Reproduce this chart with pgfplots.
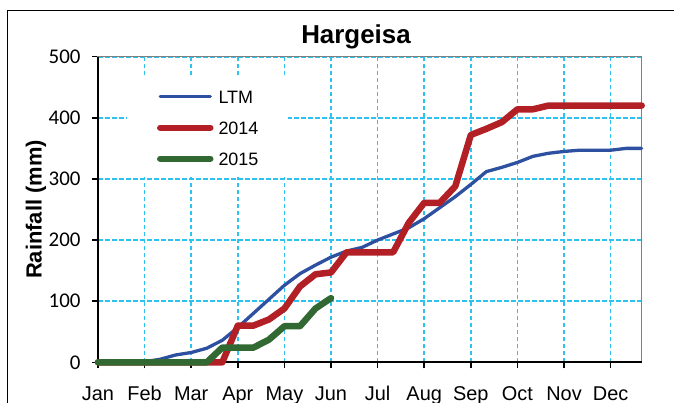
\documentclass[border=0pt]{standalone}
\usepackage{fontspec}
\setmainfont{Liberation Sans}
\newfontfamily\calibri{Carlito}
\usepackage{pgfplots}
\pgfplotsset{compat=1.18}
\definecolor{ltmblue}{RGB}{46,80,160}
\definecolor{red14}{RGB}{178,32,38}
\definecolor{green15}{RGB}{50,105,50}
\definecolor{gridcyan}{RGB}{45,195,240}
\begin{document}
\begin{tikzpicture}
\path[use as bounding box] (0bp,0bp) rectangle (674bp,403bp);
\clip (0bp,0bp) rectangle (674bp,403bp);
\draw[black, line width=1.2bp] (7.3bp,392.3bp) rectangle (720bp,-30bp);
\node[font=\bfseries\fontsize{26}{26}\selectfont, anchor=base] at (356bp,359.7bp) {Hargeisa};
\begin{axis}[
  at={(98bp,40.7bp)}, anchor=south west,
  scale only axis, width=543.7bp, height=305.6bp,
  xmin=0, xmax=35, ymin=0, ymax=500,
  xtick={0,3,...,33},
  xticklabels={Jan,Feb,Mar,Apr,May,Jun,Jul,Aug,Sep,Oct,Nov,Dec},
  ytick={0,100,...,500},
  xtick pos=left, ytick pos=left,
  tick align=outside,
  major tick length=6bp,
  every tick/.style={black, line width=1.5bp},
  grid=major,
  major grid style={gridcyan, line width=1.7bp, dash pattern=on 4.5bp off 2.5bp},
  axis line style={draw=gray, line width=1.5bp},
  /pgf/number format/assume math mode=true,
  xticklabel style={font=\fontsize{20}{20}\selectfont, anchor=base, inner sep=0pt, yshift=-32bp},
  yticklabel style={font=\calibri\fontsize{21}{21}\selectfont, anchor=east, inner sep=0pt, xshift=-11.3bp},
  ylabel={Rainfall (mm)},
  ylabel style={font=\bfseries\fontsize{22}{22}\selectfont, at={([xshift=-62bp]rel axis cs:0,0.5)}, anchor=center},
  clip=false,
  legend style={at={(rel axis cs:0.053,0.93)}, anchor=north west, draw=none, fill=white,
    font=\fontsize{18}{18}\selectfont, inner xsep=30bp, inner ysep=12bp, row sep=18bp,
    nodes={inner sep=0pt, text height=13bp, text depth=0pt}, column sep=5bp},
  legend cell align=left,
  legend image code/.code={\draw[#1] (0bp,0bp) -- (50bp,0bp);},
  every axis plot/.append style={line cap=round, line join=round},
]
\draw[black, line width=2.3bp] (rel axis cs:0,1) -- (rel axis cs:0,0) -- (rel axis cs:1,0);
\addplot[ltmblue, line width=3.3bp] coordinates {
(0,0)(1,0)(2,0)(3,1)(4,5)(5,12)(6,16)(7,23)(8,36)(9,57)(10,80)(11,103)(12,126)(13,145)(14,159)(15,172)(16,182)(17,188)(18,200)(19,210)(20,220)(21,235)(22,253)(23,271)(24,291)(25,312)(26,319)(27,327)(28,337)(29,342)(30,345)(31,347)(32,347)(33,347)(34,350)(35,350)};
\addlegendentry{LTM}
\addplot[red14, line width=6.5bp] coordinates {
(0,0)(1,0)(2,0)(3,0)(4,0)(5,0)(6,0)(7,0)(8,0)(9,60)(10,60)(11,70)(12,88)(13,124)(14,144)(15,147)(16,180)(17,180)(18,180)(19,180)(20,228)(21,261)(22,261)(23,288)(24,372)(25,382)(26,393)(27,414)(28,414)(29,420)(30,420)(31,420)(32,420)(33,420)(34,420)(35,420)};
\addlegendentry{2014}
\addplot[green15, line width=6.5bp] coordinates {
(0,0)(1,0)(2,0)(3,0)(4,0)(5,0)(6,0)(7,0)(8,24)(9,24)(10,24)(11,37)(12,59)(13,59)(14,88)(15,105)};
\addlegendentry{2015}
\end{axis}
\end{tikzpicture}
\end{document}
